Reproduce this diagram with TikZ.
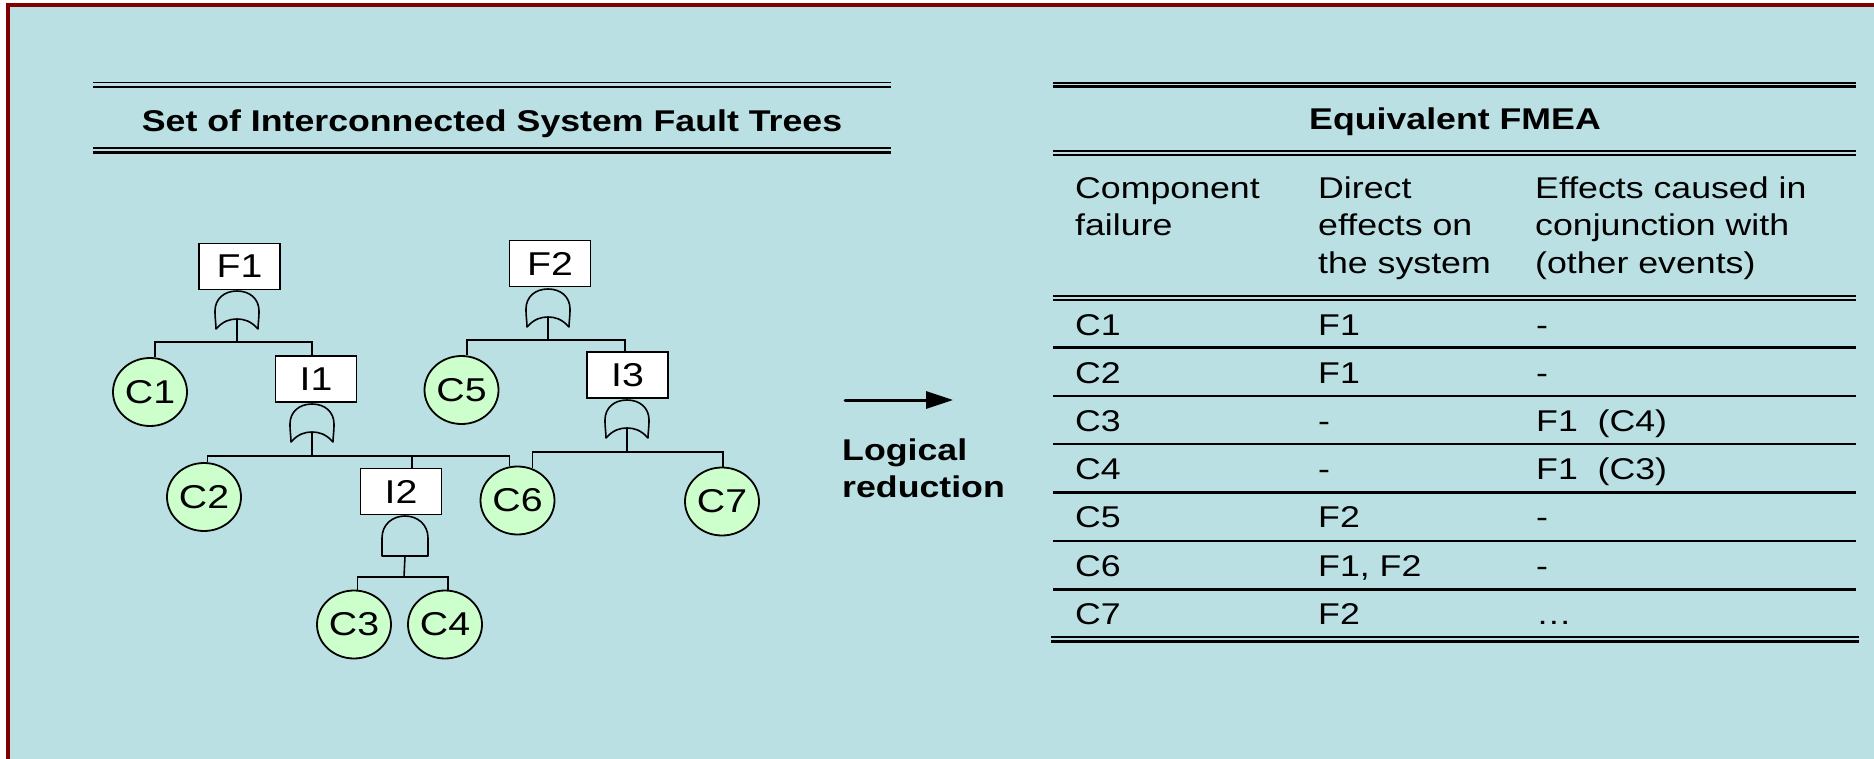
\documentclass[tikz,border=0pt]{standalone}
\usepackage{fontspec}
\setmainfont{Liberation Sans}[FakeStretch=1.19]
\usetikzlibrary{shapes.geometric,arrows.meta}
\definecolor{bgblue}{RGB}{186,224,227}
\definecolor{framered}{RGB}{128,0,0}
\definecolor{evgreen}{RGB}{204,255,204}
\tikzset{
  treeline/.style={line width=1.6pt, line join=miter},
  gateline/.style={draw, line width=1.6pt, line join=round},
  evbox/.style={draw, fill=white, line width=1.6pt, minimum width=81pt, minimum height=46pt, inner sep=0pt, font=\fontsize{33}{40}\selectfont},
  basicev/.style={ellipse, draw, fill=evgreen, line width=1.8pt, minimum width=74pt, minimum height=68pt, inner sep=0pt, font=\fontsize{33}{40}\selectfont},
  cell/.style={anchor=base west, inner sep=0pt, font=\fontsize{30}{37}\selectfont},
  ttl/.style={anchor=base, inner sep=0pt, font=\fontsize{30}{37}\selectfont\bfseries},
  tabrule/.style={line width=2.4pt},
  orgate/.pic={
    \draw[gateline] (0,0) .. controls (-13,0) and (-22,8) .. (-22,20)
      .. controls (-22,28) and (-21,33) .. (-21,38)
      .. controls (-14,30) and (-7,28) .. (0,28)
      .. controls (7,28) and (14,30) .. (21,38)
      .. controls (21,33) and (22,28) .. (22,20)
      .. controls (22,8) and (13,0) .. (0,0) -- cycle;
    \coordinate (-out) at (0,28);
  },
  andgate/.pic={
    \draw[gateline] (-23,40) -- (-23,22) .. controls (-23,8) and (-12,0) .. (0,0)
      .. controls (12,0) and (23,8) .. (23,22) -- (23,40) -- cycle;
    \coordinate (-out) at (0,40);
  }
}
\begin{document}
\begin{tikzpicture}[x=1pt,y=-1pt]
\useasboundingbox (0,0) rectangle (1874,759);
\fill[white] (0,0) rectangle (1874,759);
\fill[bgblue] (8,5) rectangle (1874,759);
\draw[framered, line width=4.2pt, line join=miter] (8,759) -- (8,5.3) -- (1874,5.3);

% ---------- left title ----------
\draw[line width=1.8pt] (93,82.5) -- (891,82.5);
\draw[line width=2.2pt] (93,87) -- (891,87);
\node[ttl] (ltitle) at (492,132) {Set of Interconnected System Fault Trees};
\draw[line width=1.8pt] (93,148) -- (891,148);
\draw[line width=2.2pt] (93,152.5) -- (891,152.5);

% ---------- fault trees ----------
\node[evbox] (f1) at (239.5,266.5) {F1\hspace{4pt}};
\node[evbox] (f2) at (550,263.5) {F2\hspace{6pt}};
\node[evbox] (i1) at (316,379) {I1\hspace{16pt}};
\node[evbox] (i3) at (627.5,375) {I3\hspace{17pt}};
\node[evbox] (i2) at (401,491.5) {I2\hspace{17pt}};

\node[basicev] (c1) at (150,392) {C1};
\node[basicev] (c2) at (204,497) {C2};
\node[basicev] (c3) at (354,624.5) {C3};
\node[basicev] (c4) at (445,624.5) {C4};
\node[basicev] (c5) at (461.5,390) {C5};
\node[basicev] (c6) at (517.5,500.5) {C6};
\node[basicev] (c7) at (722,501.5) {C7};

\pic (g1) at (237,291) {orgate};
\pic (g2) at (548,289) {orgate};
\pic (gi1) at (312,404) {orgate};
\pic (gi3) at (627,400) {orgate};
\pic (gi2) at (405,516) {andgate};

\coordinate (b1) at (237,342);
\coordinate (b2) at (548,340);
\coordinate (bi1) at (312,456);
\coordinate (bi3) at (627,452);
\coordinate (bi2) at (404,577);
\coordinate (i1top) at ([xshift=-4pt]i1.north);
\coordinate (i3top) at ([xshift=-2.5pt]i3.north);
\coordinate (i2top) at ([xshift=11pt]i2.north);

\draw[treeline] (g1-out) -- (b1);
\draw[treeline] (c1.82) |- (b1) -| (i1top);
\draw[treeline] (g2-out) -- (b2);
\draw[treeline] (c5.81) |- (b2) -| (i3top);
\draw[treeline] (gi1-out) -- (bi1);
\draw[treeline] (c2.84) |- (bi1) -| (c6.103);
\draw[treeline] (bi1 -| i2top) -- (i2top);
\draw[treeline] (gi3-out) -- (bi3);
\draw[treeline] (c6.65) |- (bi3) -| (c7.88);
\draw[treeline] (gi2-out) -- (bi2);
\draw[treeline] (c3.84) |- (bi2) -| (c4.85);

% ---------- arrow ----------
\coordinate (arrs) at (845,400);
\coordinate (arre) at (953,400);
\draw[line width=3pt, line cap=round, -{Triangle[length=27pt,width=17pt]}] (arrs) -- (arre);
\node[cell, font=\fontsize{30}{37}\selectfont\bfseries] (lr1) at (842,460) {Logical};
\node[cell, font=\fontsize{30}{37}\selectfont\bfseries] (lr2) at (842,497) {reduction};

% ---------- FMEA table ----------
\draw[tabrule] (1053,82.8) -- (1856,82.8);
\draw[tabrule] (1053,86.6) -- (1856,86.6);
\node[ttl] (rtitle) at (1455,130) {Equivalent FMEA};
\draw[tabrule] (1053,151.2) -- (1856,151.2);
\draw[tabrule] (1053,155.3) -- (1856,155.3);

\node[cell] (h1a) at (1075,198.5) {Component};
\node[cell] (h1b) at (1075,236) {failure};
\node[cell] (h2a) at (1318,198.5) {Direct};
\node[cell] (h2b) at (1318,236) {effects on};
\node[cell] (h2c) at (1318,274) {the system};
\node[cell] (h3a) at (1535,198.5) {Effects caused in};
\node[cell] (h3b) at (1535,236) {conjunction with};
\node[cell] (h3c) at (1535,274) {(other events)};

\draw[tabrule] (1053,296) -- (1856,296);
\draw[tabrule] (1053,300.2) -- (1856,300.2);

\foreach \i/\a/\b/\c in {1/C1/F1/-, 2/C2/F1/-, 3/C3/-/F1\ \ (C4), 4/C4/-/F1\ \ (C3), 5/C5/F2/-, 6/C6/{F1, F2}/-, 7/C7/F2/…}{
  \node[cell] (ra\i) at (1075,{335.5+48.1*(\i-1)}) {\a};
  \node[cell] (rb\i) at (1318,{335.5+48.1*(\i-1)}) {\b};
  \node[cell] (rc\i) at (1536,{335.5+48.1*(\i-1)}) {\c};
}
\foreach \y in {347.5,396,444.2,492.5,541,589.5}{
  \draw[tabrule] (1053,\y) -- (1856,\y);
}
\draw[tabrule] (1051,637.2) -- (1859,637.2);
\draw[tabrule] (1051,641.3) -- (1859,641.3);
\end{tikzpicture}
\end{document}
